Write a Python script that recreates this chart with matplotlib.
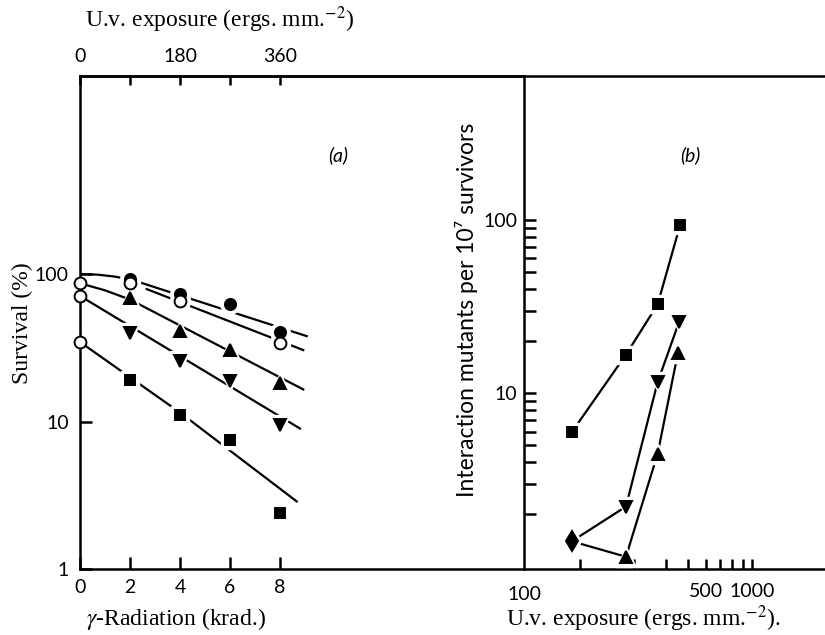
import matplotlib
matplotlib.use("Agg")
import matplotlib.pyplot as plt
from matplotlib.ticker import FixedLocator, NullLocator, NullFormatter

plt.rcParams['font.family'] = ['Lato', 'DejaVu Sans']
plt.rcParams['mathtext.fontset'] = 'stix'

W, H = 825, 635
SERIF = ['Liberation Serif', 'DejaVu Serif']

# (a) survival (%) after gamma-radiation (krad.)
dose = [2, 4, 6, 8]
surv_filled = [92.5, 73, 62.5, 40.5]
dose_open = [2, 4, 8]
surv_open = [86.5, 65.8, 34.3]
surv_up = [69, 41, 30.4, 18.3]
surv_down = [40, 25.7, 18.8, 9.5]
surv_square = [19, 11, 7.5, 2.4]
surv_zero = [86.5, 71, 34.6]          # unirradiated controls

# fitted survival curves
fit_filled_x = [0, 0.7, 1.4, 2.1, 9.07]
fit_filled_y = [100, 99, 96, 91, 37.9]
fit_open_x = [2.67, 8.93]
fit_open_y = [79, 30.5]
fit_up_x = [0, 1, 2, 8.93]
fit_up_y = [86.5, 77.5, 67.1, 16.5]
fit_down_x = [0, 8.8]
fit_down_y = [71, 8.96]
fit_square_x = [0, 4, 8.67]
fit_square_y = [34.6, 11.5, 2.87]

# (b) interaction mutants per 10^7 survivors vs u.v. exposure
uv_square = [90, 180, 270, 360]
mut_square = [5.97, 16.7, 32.6, 93.6]
uv_down = [90, 180, 270, 355]
mut_down = [1.4, 2.22, 11.6, 25.8]
uv_up = [90, 180, 270, 350]
mut_up = [1.4, 1.14, 4.48, 17.1]

uv_ticks = [100, 200, 300, 400, 500, 600, 700, 800, 900]
uv_ticklabels = ['', '', '', '', '500', '', '', '', '1000']

ERGS_PER_KRAD = 45


def px(x, y):
    return x / W, 1 - y / H


def marks(ax, x, y, marker, size, face='black', halo=True):
    # white halo first so the fitted lines stop short of each point
    if halo:
        ax.plot(x, y, ls='none', marker=marker, ms=size + 6, mfc='white',
                mec='white', zorder=3, clip_on=False)
    ax.plot(x, y, ls='none', marker=marker, ms=size, mfc=face, mec='black',
            mew=1.4, zorder=4, clip_on=False)


fig = plt.figure(figsize=(W / 100, H / 100), dpi=100)
bottom, top = 1 - 569 / H, 1 - 76 / H
ax = fig.add_axes([80 / W, bottom, (524 - 80) / W, top - bottom])
bx = fig.add_axes([524 / W, bottom, (W - 524) / W, top - bottom])

for a in (ax, bx):
    for s in a.spines.values():
        s.set_linewidth(1.8)
    a.spines['right'].set_visible(False)

# ---- panel (a)
lw = 1.6
ax.plot(fit_filled_x, fit_filled_y, color='black', lw=lw, zorder=2)
ax.plot(fit_open_x, fit_open_y, color='black', lw=lw, zorder=2)
ax.plot(fit_up_x, fit_up_y, color='black', lw=lw, zorder=2)
ax.plot(fit_down_x, fit_down_y, color='black', lw=lw, zorder=2)
ax.plot(fit_square_x, fit_square_y, color='black', lw=lw, zorder=2)

marks(ax, dose, surv_filled, 'o', 8)
marks(ax, dose_open, surv_open, 'o', 8.5, face='white')
marks(ax, dose, surv_up, '^', 8.5)
marks(ax, dose, surv_down, 'v', 8.5)
marks(ax, dose, surv_square, 's', 6.5)
marks(ax, [0] * len(surv_zero), surv_zero, 'o', 8.5, face='white', halo=False)

ax.set_yscale('log')
ax.set_xlim(0, (524 - 80) / 25)
ax.set_ylim(1, 10 ** ((569 - 76) / 147.5))
ax.set_xticks([0, 2, 4, 6, 8])
ax.set_yticks([1, 10, 100], labels=['1', '10', '100'])
ax.yaxis.set_minor_locator(NullLocator())
ax.tick_params(direction='in', length=8.5, width=1.8, labelsize=14)
ax.tick_params(axis='x', pad=7)
ax.tick_params(axis='y', pad=8)

top_ax = ax.secondary_xaxis('top', functions=(lambda k: k * ERGS_PER_KRAD,
                                              lambda e: e / ERGS_PER_KRAD))
top_ax.set_xticks([0, 90, 180, 270, 360], labels=['0', '', '180', '', '360'])
top_ax.tick_params(direction='in', length=6.5, width=1.8, labelsize=14, pad=8)
top_ax.spines['top'].set_linewidth(1.8)

# ---- panel (b)
bx.plot(uv_square, mut_square, color='black', lw=lw, zorder=2)
bx.plot(uv_down, mut_down, color='black', lw=lw, zorder=2)
bx.plot(uv_up, mut_up, color='black', lw=lw, zorder=2)
marks(bx, uv_square, mut_square, 's', 6.5)
marks(bx, uv_down[1:], mut_down[1:], 'v', 8.5)
marks(bx, uv_up[1:], mut_up[1:], '^', 8.5)
marks(bx, uv_up[:1], mut_up[:1], 'd', 10)

bx.set_xscale('log')
bx.set_yscale('log')
x_left = 100 * 10 ** (-56 / 180)
bx.set_xlim(x_left, 100 * 10 ** ((W - 580) / 180))
bx.set_ylim(10 ** (2 - (569 - 220) / 173.3), 10 ** (2 + (220 - 76) / 173.3))
bx.xaxis.set_major_locator(FixedLocator(uv_ticks))
bx.set_xticklabels(uv_ticklabels)
bx.xaxis.set_minor_locator(NullLocator())
bx.tick_params(axis='x', direction='in', length=7, width=1.8, labelsize=14, pad=10)
bx.text(x_left, -0.034, '100', transform=bx.get_xaxis_transform(),
        fontsize=14, ha='center', va='top')
bx.set_yticks([10, 100], labels=['10', '100'])
bx.yaxis.set_minor_locator(FixedLocator([2, 3, 4, 5, 6, 7, 8, 9,
                                         20, 30, 40, 50, 60, 70, 80, 90]))
bx.yaxis.set_minor_formatter(NullFormatter())
bx.tick_params(axis='y', which='both', direction='in', length=8.5, width=1.8,
               labelsize=14, pad=5)

# ---- labels
fig.text(*px(220, 20), 'U.v. exposure (ergs. mm.$^{-2}$)', family=SERIF,
         fontsize=17, ha='center', va='center')
fig.text(*px(22, 323), 'Survival (%)', family=SERIF, fontsize=17,
         rotation=90, ha='center', va='center')
fig.text(*px(176, 619), r'$\gamma$-Radiation (krad.)', family=SERIF,
         fontsize=17, ha='center', va='center')
fig.text(*px(643, 619), 'U.v. exposure (ergs. mm.$^{-2}$).', family=SERIF,
         fontsize=17, ha='center', va='center')
fig.text(*px(467, 310), 'Interaction mutants per 10\u2077 survivors',
         fontsize=16.5, rotation=90, ha='center', va='center')
fig.text(*px(338, 155), '(a)', style='italic', fontsize=14, ha='center', va='center')
fig.text(*px(690, 155), '(b)', style='italic', fontsize=14, ha='center', va='center')

fig.savefig('out.png', dpi=100)
